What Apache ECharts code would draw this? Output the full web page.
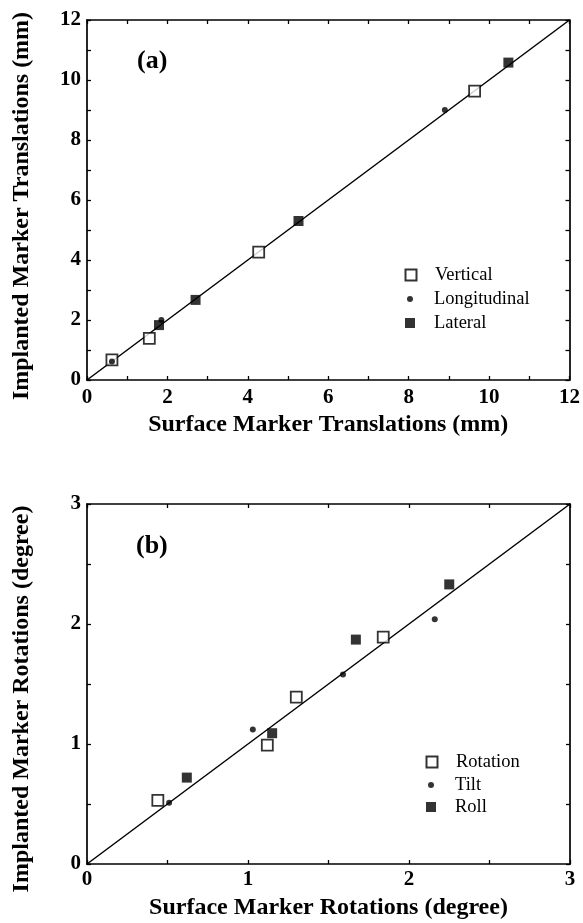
<!DOCTYPE html>
<html>
<head>
<meta charset="utf-8">
<script src="https://cdn.jsdelivr.net/npm/echarts@6/dist/echarts.min.js"></script>
<style>html,body{margin:0;padding:0;background:#fff}#c{width:583px;height:923px}</style>
</head>
<body>
<div id="c"></div>
<script>
// ---- Panel (a): translations (mm) [surface, implanted]
const verticalA = [[0.62, 0.67], [1.55, 1.39], [4.27, 4.26], [9.64, 9.63]];
const longitudinalA = [[0.62, 0.62], [1.85, 2.0], [8.9, 9.0]];
const lateralA = [[1.79, 1.83], [2.70, 2.67], [5.26, 5.3], [10.48, 10.58]];
const identityA = [[0, 0], [12, 12]];
const ticksA = [0, 2, 4, 6, 8, 10, 12];

// ---- Panel (b): rotations (degree)
const rotationB = [[0.44, 0.53], [1.12, 0.99], [1.30, 1.39], [1.84, 1.89]];
const tiltB = [[0.51, 0.51], [1.03, 1.12], [1.59, 1.58], [2.16, 2.04]];
const rollB = [[0.62, 0.72], [1.15, 1.09], [1.67, 1.87], [2.25, 2.33]];
const identityB = [[0, 0], [3, 3]];
const ticksB = [0, 1, 2, 3];

const FONT = "'Liberation Serif', 'Times New Roman', serif";
const chart = echarts.init(document.getElementById('c'), null, {renderer: 'canvas'});

function xAx(gi, max, interval, ticks, name, labMargin, nameGap) {
  return [{
    type: 'value', gridIndex: gi, min: 0, max: max, interval: interval,
    name: name, nameLocation: 'middle', nameGap: nameGap,
    nameTextStyle: {fontFamily: FONT, fontWeight: 'bold', fontSize: 24, color: '#000'},
    axisLine: {show: true, onZero: false, lineStyle: {color: '#000', width: 1.7}},
    axisTick: {show: true, inside: true, length: 4, lineStyle: {color: '#000', width: 1.3}},
    axisLabel: {show: true, margin: labMargin, fontFamily: FONT, fontWeight: 'bold', fontSize: 21, color: '#000',
      formatter: v => ticks.indexOf(Math.round(v * 1000) / 1000) >= 0 ? String(v) : ''},
    splitLine: {show: false}
  }, {
    type: 'value', gridIndex: gi, position: 'top', min: 0, max: max, interval: interval,
    axisLine: {show: true, onZero: false, lineStyle: {color: '#000', width: 1.7}},
    axisTick: {show: true, inside: true, length: 4, lineStyle: {color: '#000', width: 1.3}},
    axisLabel: {show: false}, splitLine: {show: false}
  }];
}
function yAx(gi, max, interval, ticks, name, nameGap, shift) {
  return [{
    type: 'value', gridIndex: gi, min: 0, max: max, interval: interval,
    name: name, nameLocation: 'middle', nameGap: nameGap,
    nameTextStyle: {fontFamily: FONT, fontWeight: 'bold', fontSize: 24, color: '#000', padding: [0, shift, 0, 0]},
    axisLine: {show: true, onZero: false, lineStyle: {color: '#000', width: 1.7}},
    axisTick: {show: true, inside: true, length: 4, lineStyle: {color: '#000', width: 1.3}},
    axisLabel: {show: true, margin: 6, fontFamily: FONT, fontWeight: 'bold', fontSize: 21, color: '#000',
      formatter: v => ticks.indexOf(Math.round(v * 1000) / 1000) >= 0 ? String(v) : ''},
    splitLine: {show: false}
  }, {
    type: 'value', gridIndex: gi, position: 'right', min: 0, max: max, interval: interval,
    axisLine: {show: true, onZero: false, lineStyle: {color: '#000', width: 1.7}},
    axisTick: {show: true, inside: true, length: 4, lineStyle: {color: '#000', width: 1.3}},
    axisLabel: {show: false}, splitLine: {show: false}
  }];
}

const openSq = {symbol: 'rect', symbolSize: 11, itemStyle: {color: '#fff', borderColor: '#000', borderWidth: 1.8}};
const fillSq = {symbol: 'rect', symbolSize: 10, itemStyle: {color: '#000', borderColor: '#000', borderWidth: 0}};
const dot = {symbol: 'circle', symbolSize: 6, itemStyle: {color: '#000', borderWidth: 0}};

function sc(name, data, xi, yi, sty, z) {
  return Object.assign({type: 'scatter', name: name, data: data, xAxisIndex: xi, yAxisIndex: yi, z: z,
    emphasis: {disabled: true}}, JSON.parse(JSON.stringify(sty)));
}
function ln(data, xi, yi) {
  return {type: 'line', data: data, xAxisIndex: xi, yAxisIndex: yi, showSymbol: false, symbol: 'none',
    lineStyle: {color: '#000', width: 1.5}, z: 1, emphasis: {disabled: true}, silent: true};
}
function leg(name, left, cy, w, h) {
  return {data: [name], left: left, top: cy - 10, itemWidth: w, itemHeight: h, selectedMode: false,
    padding: 0, itemGap: 0,
    textStyle: {fontFamily: FONT, fontSize: 18.5, color: '#000', lineHeight: 20, padding: [0, 0, 0, 12 - (w - 6) / 2 + 4]}};
}

const xa = xAx(0, 12, 1, ticksA, 'Surface Marker Translations (mm)', 7, 33);
const ya = yAx(0, 12, 1, ticksA, 'Implanted Marker Translations (mm)', 53, 12);
const xb = xAx(1, 3, 0.5, ticksB, 'Surface Marker Rotations (degree)', 5, 32);
const yb = yAx(1, 3, 0.5, ticksB, 'Implanted Marker Rotations (degree)', 53, 30);

chart.setOption({
  animation: false,
  backgroundColor: '#fff',
  textStyle: {fontFamily: FONT},
  grid: [
    {left: 87, right: 13, top: 20, height: 360},
    {left: 87, right: 13, top: 504, height: 360}
  ],
  xAxis: [xa[0], xa[1], xb[0], xb[1]],
  yAxis: [ya[0], ya[1], yb[0], yb[1]],
  legend: [
    leg('Vertical', 410 - 5.5, 275, 11, 11),
    leg('Longitudinal', 410 - 3, 299, 6, 6),
    leg('Lateral', 410 - 5, 323, 10, 10),
    leg('Rotation', 431 - 5.5, 762, 11, 11),
    leg('Tilt', 431 - 3, 785, 6, 6),
    leg('Roll', 431 - 5, 807, 10, 10)
  ],
  graphic: [
    {type: 'text', left: 137, top: 48, style: {text: '(a)', font: "bold 26px 'Liberation Serif', serif", fill: '#000'}},
    {type: 'text', left: 136, top: 533, style: {text: '(b)', font: "bold 26px 'Liberation Serif', serif", fill: '#000'}}
  ],
  series: [
    ln(identityA, 0, 0),
    sc('Vertical', verticalA, 0, 0, openSq, 3),
    sc('Lateral', lateralA, 0, 0, fillSq, 4),
    sc('Longitudinal', longitudinalA, 0, 0, dot, 5),
    ln(identityB, 2, 2),
    sc('Rotation', rotationB, 2, 2, openSq, 3),
    sc('Roll', rollB, 2, 2, fillSq, 4),
    sc('Tilt', tiltB, 2, 2, dot, 5)
  ]
});
</script>
</body>
</html>
